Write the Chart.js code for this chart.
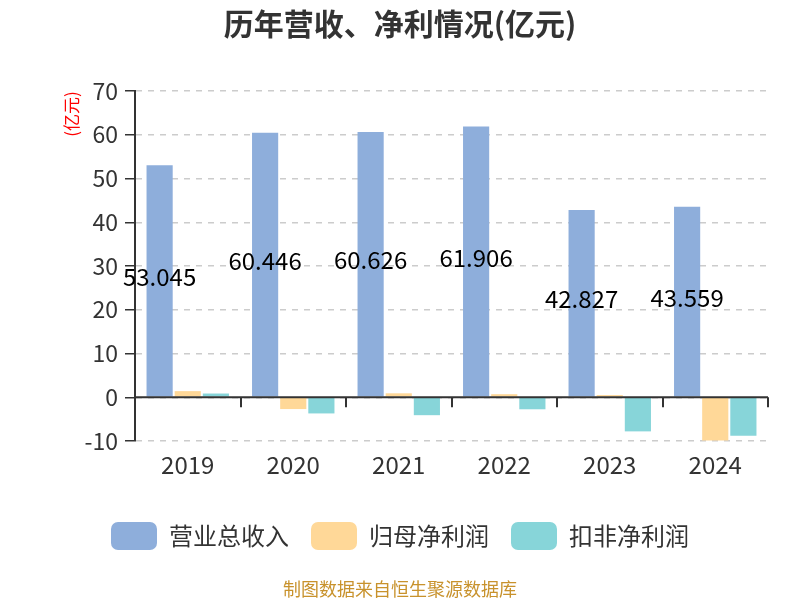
<!DOCTYPE html>
<html>
<head>
<meta charset="utf-8">
<script src="https://cdn.jsdelivr.net/npm/chart.js@4"></script>
<style>
  html, body { margin: 0; padding: 0; background: #fff; }
  #wrap { width: 800px; height: 600px; }
</style>
</head>
<body>
<div id="wrap"><canvas id="chart" width="800" height="600"></canvas></div>
<script>
// ── DATA ─────────────────────────────────────────────────────────
const years    = ['2019', '2020', '2021', '2022', '2023', '2024'];
const revenue  = [53.045, 60.446, 60.626, 61.906, 42.827, 43.559];
const netProfit   = [1.4, -2.7, 0.9, 0.7, 0.5, -9.9];
const deductedNet = [0.85, -3.7, -4.1, -2.75, -7.8, -8.8];
const seriesNames = ['营业总收入', '归母净利润', '扣非净利润'];

const FONT = '"Noto Sans CJK SC", "Noto Sans", sans-serif';

// ── EXTRA DRAWING: title, zero line, bar labels, unit label, footer ──
const extras = {
  id: 'extras',
  afterDatasetsDraw(chart) {
    const { ctx, chartArea, scales } = chart;
    const y0 = scales.y.getPixelForValue(0);

    // zero axis line with ticks at category boundaries
    ctx.save();
    ctx.strokeStyle = '#333';
    ctx.lineWidth = 2;
    ctx.beginPath();
    ctx.moveTo(chartArea.left, y0);
    ctx.lineTo(chartArea.right, y0);
    const step = (chartArea.right - chartArea.left) / years.length;
    for (let i = 1; i <= years.length; i++) {
      const x = Math.round(chartArea.left + step * i);
      ctx.moveTo(x, y0);
      ctx.lineTo(x, y0 + 10);
    }
    ctx.stroke();

    // value labels in the middle of the revenue bars
    ctx.fillStyle = '#000';
    ctx.font = '24px ' + FONT;
    ctx.textAlign = 'center';
    ctx.textBaseline = 'middle';
    chart.getDatasetMeta(0).data.forEach((bar, i) => {
      ctx.fillText(revenue[i].toFixed(3), bar.x, (bar.y + bar.base) / 2 - 4);
    });
    ctx.restore();
  },
  afterDraw(chart) {
    const { ctx } = chart;
    ctx.save();
    ctx.textAlign = 'center';
    ctx.textBaseline = 'middle';

    // title
    ctx.fillStyle = '#333';
    ctx.font = 'bold 30px ' + FONT;
    ctx.fillText('历年营收、净利情况(亿元)', 400, 24);

    // footer
    ctx.fillStyle = '#c8922c';
    ctx.font = '18px ' + FONT;
    ctx.fillText('制图数据来自恒生聚源数据库', 400, 589);

    // unit label
    ctx.translate(72, 114);
    ctx.rotate(-Math.PI / 2);
    ctx.fillStyle = '#ff0000';
    ctx.font = '17px ' + FONT;
    ctx.fillText('(亿元)', 0, 0);
    ctx.restore();
  }
};

// ── CHART ────────────────────────────────────────────────────────
new Chart(document.getElementById('chart'), {
  type: 'bar',
  data: {
    labels: years,
    datasets: [
      { label: seriesNames[0], data: revenue,     backgroundColor: '#8eaedb' },
      { label: seriesNames[1], data: netProfit,   backgroundColor: '#ffd898' },
      { label: seriesNames[2], data: deductedNet, backgroundColor: '#87d5d9' },
    ],
  },
  options: {
    responsive: false,
    animation: false,
    categoryPercentage: 0.8,
    barPercentage: 0.93,
    layout: { padding: { left: 32, right: 32, top: 91, bottom: 40 } },
    plugins: {
      title: { display: false },
      legend: {
        position: 'bottom',
        labels: {
          color: '#333',
          font: { family: FONT, size: 24 },
          boxWidth: 46,
          boxHeight: 28,
          useBorderRadius: true,
          borderRadius: 7,
          padding: 22,
        },
      },
      tooltip: { enabled: false },
    },
    scales: {
      x: {
        grid: { display: false },
        border: { display: false },
        ticks: { color: '#333', font: { family: FONT, size: 24 }, padding: 1 },
        afterFit(scale) { scale.height = 59; },
      },
      y: {
        min: -10,
        max: 70,
        ticks: { stepSize: 10, color: '#333', font: { family: FONT, size: 23 }, padding: 7 },
        grid: { color: '#cccccc', lineWidth: 1.5, tickColor: '#333', tickLength: 10 },
        border: { display: true, color: '#333', width: 2, dash: [6, 6] },
        afterFit(scale) { scale.width = 103; },
      },
    },
  },
  plugins: [extras],
});
</script>
</body>
</html>
